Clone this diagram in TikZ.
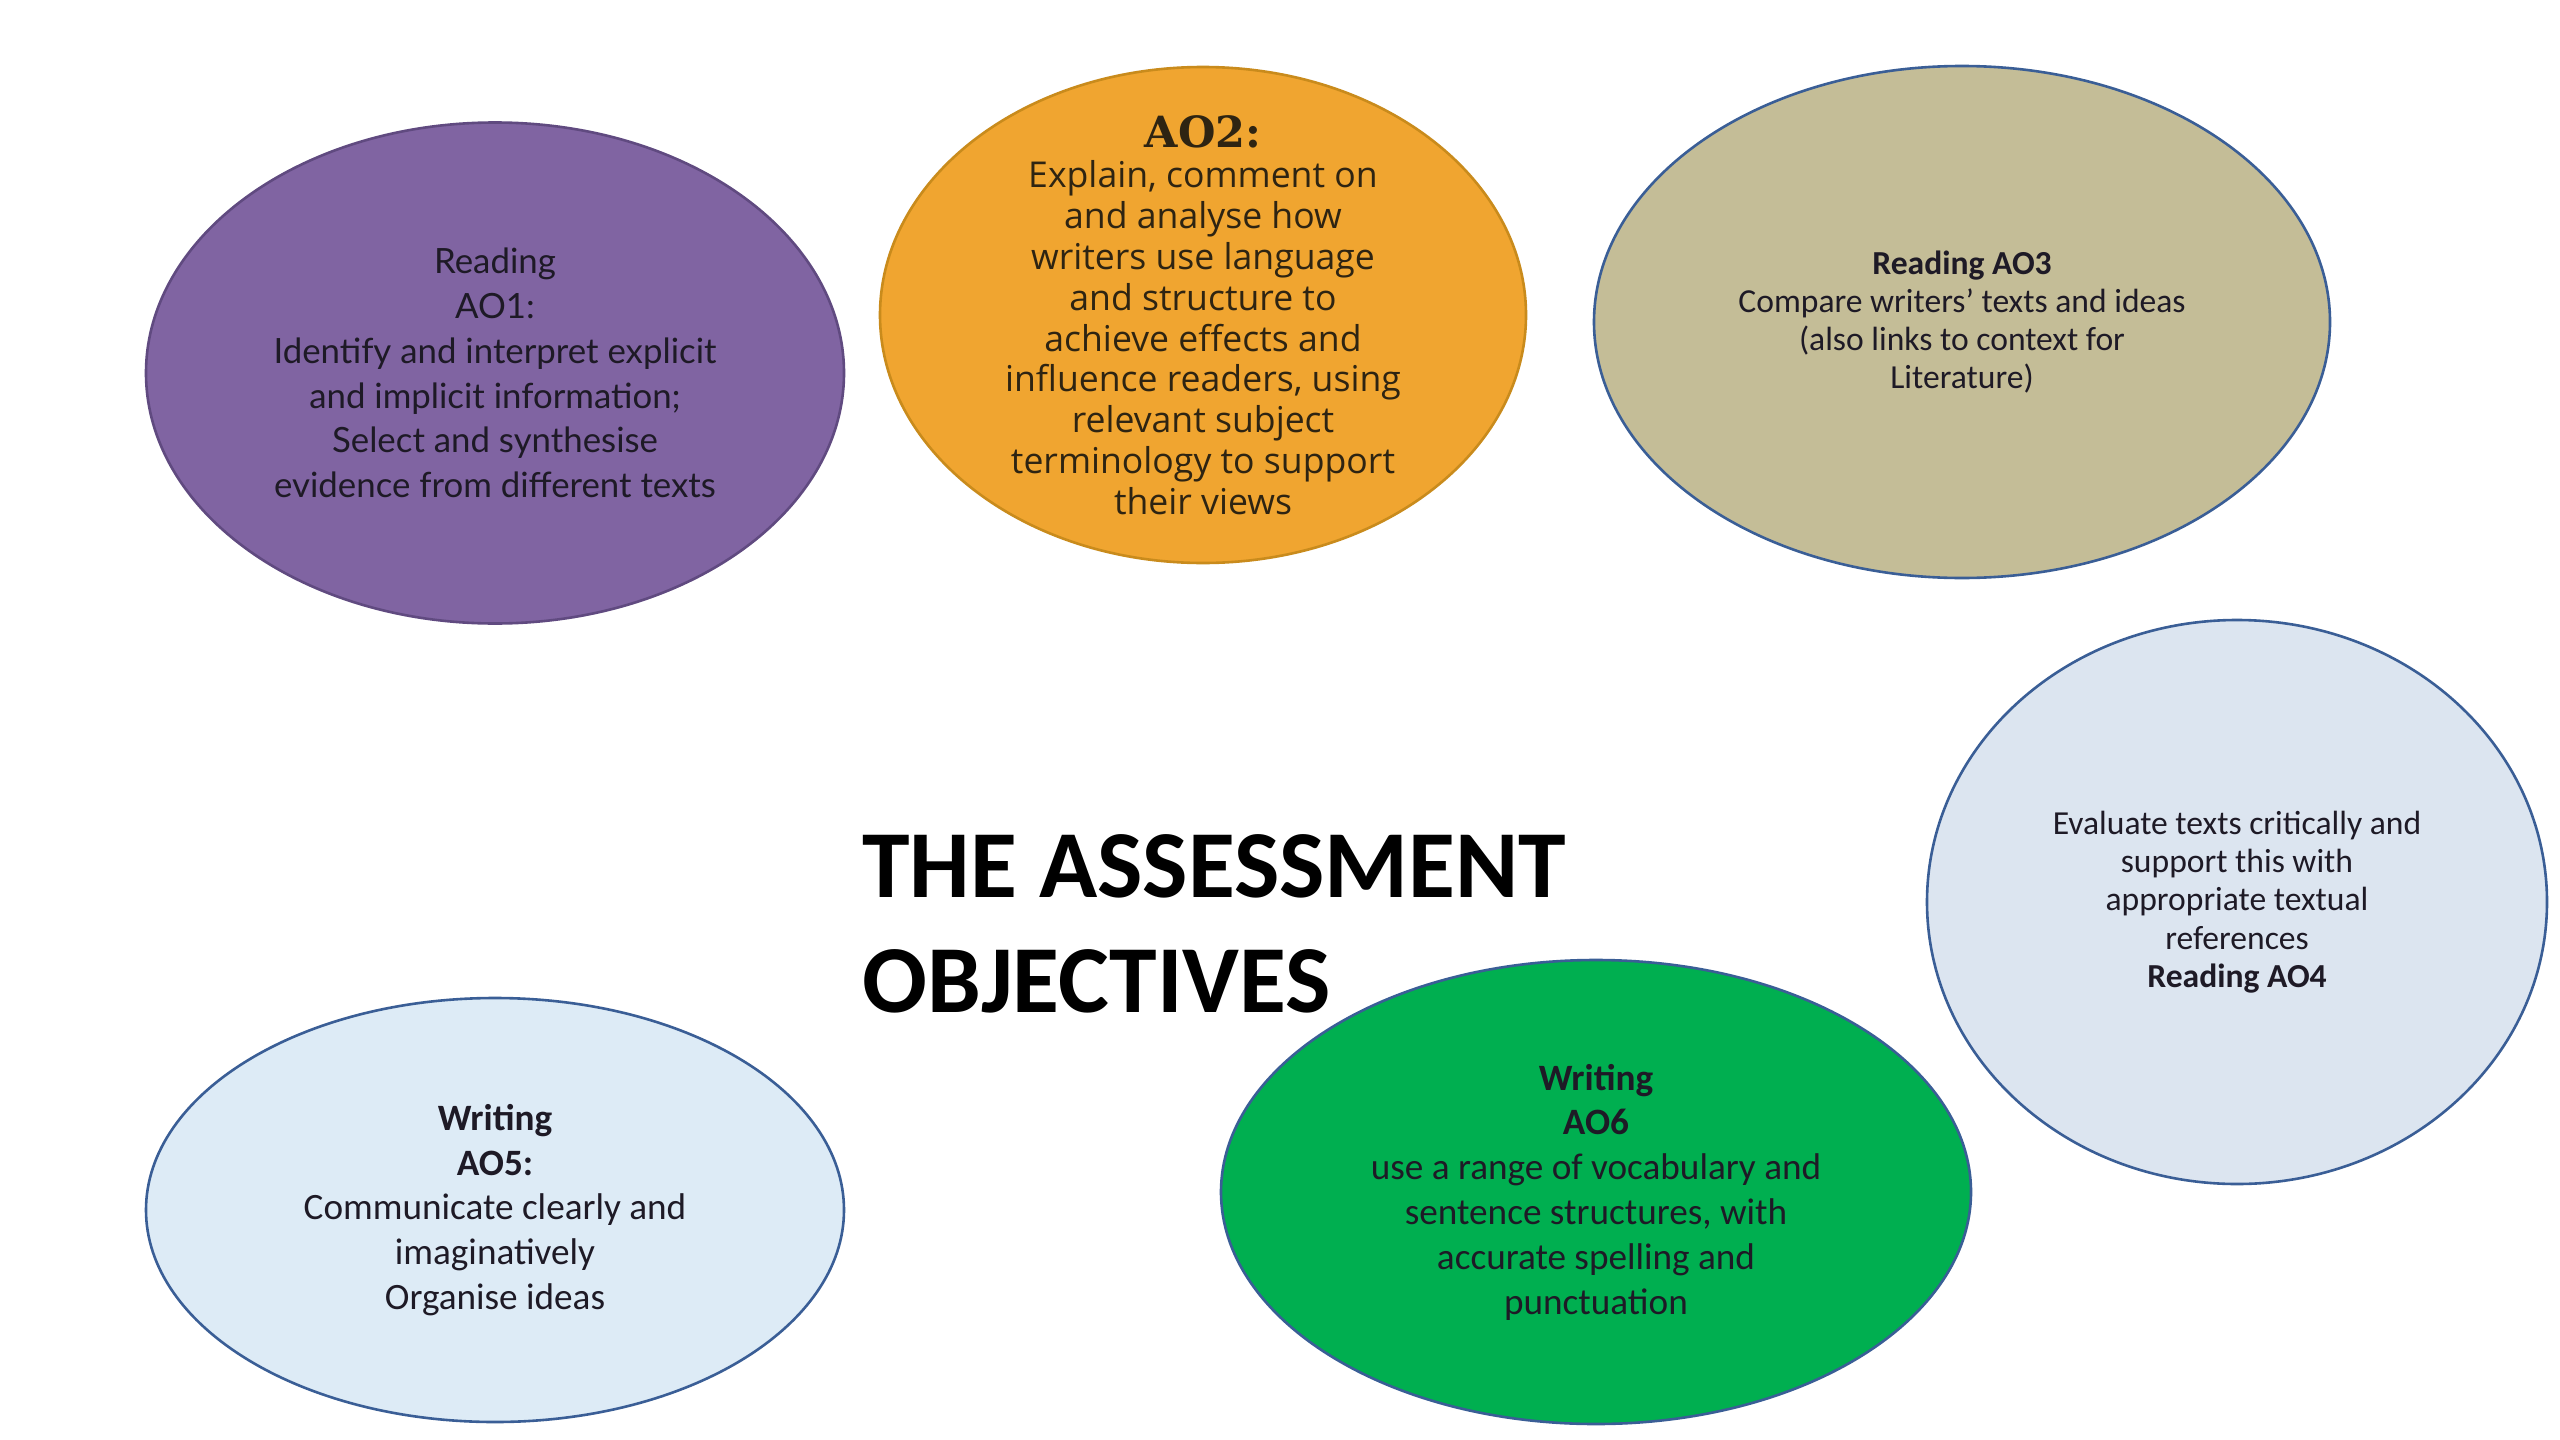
\documentclass[tikz,border=0pt]{standalone}
\usepackage{fontspec}
\setmainfont{Carlito}
\newfontfamily\latofont{Lato}
\newfontfamily\opensfont{Open Sans}
\newfontfamily\slabfont{DejaVu Serif}
\usetikzlibrary{shapes.geometric}
\definecolor{purpfill}{HTML}{8064A2}
\definecolor{purpline}{HTML}{604A80}
\definecolor{orfill}{HTML}{F0A530}
\definecolor{orline}{HTML}{C98B1C}
\definecolor{tanfill}{HTML}{C4BD97}
\definecolor{blueline}{HTML}{3A5E96}
\definecolor{ao4fill}{HTML}{DCE5F0}
\definecolor{ao5fill}{HTML}{DDEBF6}
\definecolor{greenfill}{HTML}{00AF50}
\definecolor{darktext}{HTML}{1E1A26}
\definecolor{browntext}{HTML}{2E2412}
\tikzset{
  blob/.style={ellipse, inner sep=0pt, line width=1.3pt},
  body/.style={align=center, inner sep=0pt, text=darktext},
  headline/.style={anchor=base west, inner sep=0pt, font=\fontsize{48}{56}\selectfont\bfseries}
}
\begin{document}
\begin{tikzpicture}[x=0.5pt, y=-0.5pt]
\useasboundingbox[fill=white] (0,0) rectangle (2560,1440);

% ellipses
\node[blob, draw=purpline, fill=purpfill, minimum width=698pt*0.5, minimum height=501pt*0.5] (e1) at (495,373) {};
\node[blob, draw=orline, fill=orfill, minimum width=646pt*0.5, minimum height=496pt*0.5] (e2) at (1203,315) {};
\node[blob, draw=blueline, fill=tanfill, minimum width=736pt*0.5, minimum height=512pt*0.5] (e3) at (1962,322) {};
\node[blob, draw=blueline, fill=ao4fill, minimum width=620pt*0.5, minimum height=564pt*0.5] (e4) at (2237,902) {};
\node[blob, draw=blueline, fill=ao5fill, minimum width=698pt*0.5, minimum height=424pt*0.5] (e5) at (495,1210) {};
\node[blob, draw=blueline, fill=greenfill, minimum width=750pt*0.5, minimum height=464pt*0.5] (e6) at (1596,1192) {};

% texts
\node[body, font=\latofont\fontsize{17.4}{22.4}\selectfont] (t1) at (e1.center)
  {Reading\\AO1:\\Identify and interpret explicit\\and implicit information;\\Select and synthesise\\evidence from different texts};
\node[body, text=browntext, font=\opensfont\fontsize{17.8}{20.4}\selectfont] (t2) at (e2.center)
  {{\slabfont\bfseries\fontsize{21.5}{20.4}\selectfont AO2:}\\Explain, comment on\\and analyse how\\writers use language\\and structure to\\achieve effects and\\influence readers, using\\relevant subject\\terminology to support\\their views};
\node[body, font=\fontsize{16.8}{19}\selectfont] (t3) at (e3.center)
  {\textbf{Reading AO3}\\Compare writers’ texts and ideas\\(also links to context for\\Literature)};
\node[body, font=\fontsize{16.8}{19.2}\selectfont] (t4) at (e4.center)
  {Evaluate texts critically and\\support this with\\appropriate textual\\references\\\textbf{Reading AO4}};
\node[body, font=\fontsize{18.6}{22.4}\selectfont] (t5) at (e5.center)
  {\textbf{Writing}\\\textbf{AO5:}\\Communicate clearly and\\imaginatively\\Organise ideas};
\node[body, font=\fontsize{18.6}{22.4}\selectfont] (t6) at (e6.center)
  {\textbf{Writing}\\\textbf{AO6}\\use a range of vocabulary and\\sentence structures, with\\accurate spelling and\\punctuation};

% title
\node[headline] (h1) at (862,897) {THE ASSESSMENT};
\node[headline] (h2) at (862,1012) {OBJECTIVES};
\end{tikzpicture}
\end{document}
